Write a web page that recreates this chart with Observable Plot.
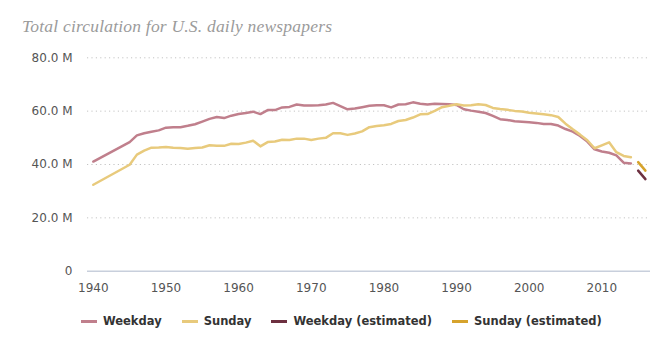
<!DOCTYPE html>
<html><head><meta charset="utf-8">
<script src="https://cdn.jsdelivr.net/npm/d3@7"></script>
<script src="https://cdn.jsdelivr.net/npm/@observablehq/plot@0.6"></script>
<style>
body{margin:0;background:#fff;width:672px;height:352px;position:relative;overflow:hidden}
#title{position:absolute;left:22px;top:16px;font:italic 17.5px "Liberation Serif",serif;letter-spacing:0.2px;line-height:20px;color:#9b9b9b;white-space:nowrap}
#chart{position:absolute;left:0;top:40px}
#legend{position:absolute;left:81px;top:312px;display:flex;font:bold 11.5px "DejaVu Sans",sans-serif;color:#333;line-height:18px;white-space:nowrap}
.item{display:flex;align-items:center;margin-right:20px}
.sw{width:16px;height:3px;margin-right:6px}
</style>
</head><body>
<div id="title">Total circulation for U.S. daily newspapers</div>
<div id="chart"></div>
<div id="legend"></div>
<script>
const title = "Total circulation for U.S. daily newspapers";
const years = [1940,1945,1946,1947,1948,1949,1950,1951,1952,1953,1954,1955,1956,1957,1958,1959,
  1960,1961,1962,1963,1964,1965,1966,1967,1968,1969,1970,1971,1972,1973,1974,1975,1976,1977,1978,1979,
  1980,1981,1982,1983,1984,1985,1986,1987,1988,1989,1990,1991,1992,1993,1994,1995,1996,1997,1998,1999,
  2000,2001,2002,2003,2004,2005,2006,2007,2008,2009,2010,2011,2012,2013,2014];
const weekday = [41.1,48.4,50.9,51.7,52.3,52.8,53.8,54.0,54.0,54.5,55.1,56.1,57.1,57.8,57.4,58.3,
  58.9,59.3,59.8,58.9,60.4,60.4,61.4,61.6,62.5,62.1,62.1,62.2,62.5,63.1,61.9,60.7,61.0,61.5,62.0,62.2,
  62.2,61.4,62.5,62.6,63.3,62.8,62.5,62.8,62.7,62.6,62.3,60.7,60.2,59.8,59.3,58.2,57.0,56.7,56.2,56.0,
  55.8,55.6,55.2,55.2,54.6,53.3,52.3,50.7,48.6,45.7,44.9,44.4,43.4,40.7,40.4];
const sunday = [32.4,39.9,43.7,45.2,46.3,46.4,46.6,46.3,46.2,45.9,46.2,46.4,47.2,47.0,47.0,47.8,
  47.7,48.2,48.9,46.8,48.4,48.6,49.3,49.2,49.7,49.7,49.2,49.7,50.0,51.7,51.7,51.1,51.6,52.4,54.0,54.4,
  54.7,55.2,56.3,56.7,57.6,58.8,58.9,60.1,61.5,62.0,62.6,62.1,62.2,62.6,62.3,61.2,60.8,60.5,60.1,59.9,
  59.4,59.1,58.8,58.5,57.8,55.3,53.2,51.2,49.1,46.1,47.2,48.3,44.6,43.2,42.7];
const estYears = [2015,2016];
const weekdayEst = [37.7,34.5];
const sundayEst = [40.9,37.7];
const xTicks = [1940,1950,1960,1970,1980,1990,2000,2010];
const yTicks = [0,20,40,60,80];
const seriesNames = ["Weekday","Sunday","Weekday (estimated)","Sunday (estimated)"];
const colors = ["#c07f8c","#e8ca7c","#6d3040","#d6a32c"];

const chart = Plot.plot({
  width: 672, height: 260,
  marginLeft: 87, marginRight: 22, marginTop: 17.3, marginBottom: 29.3,
  style: {fontFamily: "'DejaVu Sans', sans-serif", fontSize: "12px", color: "#555", background: "#fff"},
  x: {domain: [1939.2, 2016.7], ticks: xTicks, tickFormat: d => String(d), tickSize: 0, tickPadding: 12, label: null},
  y: {domain: [0, 80], ticks: yTicks, tickFormat: d => d === 0 ? "0" : d.toFixed(1) + " M", tickSize: 0, tickPadding: 15, label: null},
  marks: [
    Plot.ruleY(yTicks.filter(d => d > 0), {stroke: "#c4c4c4", strokeDasharray: "1.2,3.2", strokeWidth: 1}),
    Plot.ruleY([0], {stroke: "#c8cfdc", strokeWidth: 1.5}),
    Plot.line(weekday, {x: years, y: d => d, stroke: colors[0], strokeWidth: 2.5}),
    Plot.line(sunday, {x: years, y: d => d, stroke: colors[1], strokeWidth: 2.5}),
    Plot.line(weekdayEst, {x: estYears, y: d => d, stroke: colors[2], strokeWidth: 2.5}),
    Plot.line(sundayEst, {x: estYears, y: d => d, stroke: colors[3], strokeWidth: 2.5})
  ]
});
document.getElementById("chart").appendChild(chart);

const legend = document.getElementById("legend");
seriesNames.forEach((name, i) => {
  const item = document.createElement("div");
  item.className = "item";
  const sw = document.createElement("span");
  sw.className = "sw";
  sw.style.background = colors[i];
  const t = document.createElement("span");
  t.textContent = name;
  item.appendChild(sw); item.appendChild(t);
  legend.appendChild(item);
});
</script>
</body></html>
